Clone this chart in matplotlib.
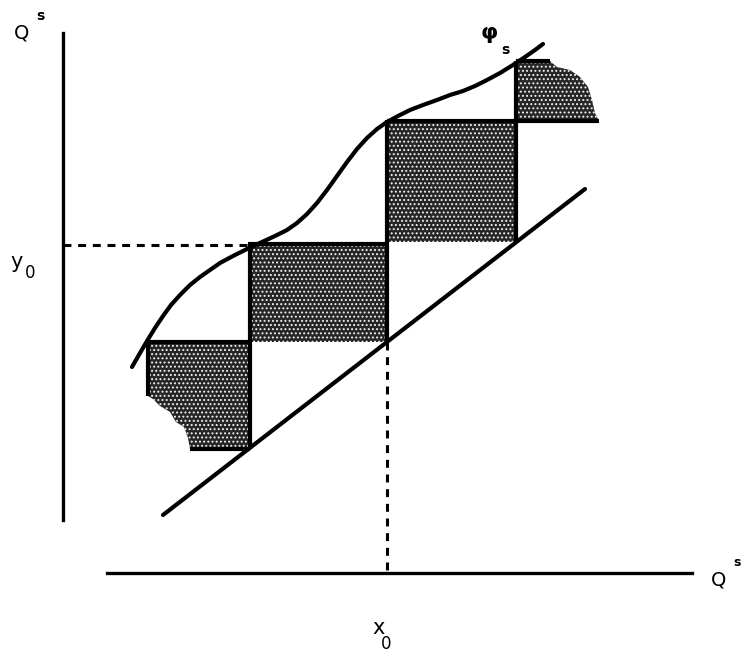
import matplotlib.pyplot as plt

# everything in pixel units (x to the right, y downwards)
W, H = 743, 664

# upward-sloping straight line
line_x = [163, 585]
line_y = [515, 189]

# the S-shaped curve
curve_x = [132, 140, 147, 155, 163, 171, 180, 190, 200, 210, 220, 233, 247, 262,
           275, 287, 297, 307, 317, 327, 337, 347, 357, 367, 377, 387, 398, 410,
           423, 437, 450, 463, 475, 487, 500, 513, 525, 535, 543]
curve_y = [367, 353, 341, 328, 316, 305, 295, 285, 277, 270, 263, 256, 249, 242,
           236, 230, 223, 214, 203, 190, 176, 162, 149, 138, 129, 122, 116, 110,
           105, 100, 95, 91, 86, 80, 73, 65, 57, 50, 44]

# shaded staircase boxes
box1_x = [148, 250, 250, 190, 188, 184, 176, 170, 160, 153, 148]
box1_y = [342, 342, 449, 449, 438, 427, 422, 412, 406, 399, 396]
box2_x = [248, 387, 387, 248]
box2_y = [244, 244, 342, 342]
box3_x = [387, 516, 516, 387]
box3_y = [121, 121, 242, 242]
box4_x = [516, 550, 557, 570, 580, 588, 592, 595, 599, 516]
box4_y = [61, 61, 67, 70, 77, 87, 100, 113, 121, 121]

# thick borders of the boxes (x0, y0, x1, y1)
edges = [
    (148, 342, 250, 342), (250, 244, 250, 449), (190, 449, 250, 449),
    (148, 342, 148, 396),
    (248, 244, 387, 244), (387, 120, 387, 342),
    (387, 121, 599, 121), (516, 61, 516, 242), (516, 61, 550, 61),
]

# reference levels
x0_pos, y0_pos = 387, 245

fig = plt.figure(figsize=(W / 100, H / 100), dpi=100)
ax = fig.add_axes([0, 0, 1, 1])
ax.set_xlim(0, W)
ax.set_ylim(H, 0)
ax.axis('off')

plt.rcParams['hatch.linewidth'] = 0.9
for bx, by in [(box1_x, box1_y), (box2_x, box2_y), (box3_x, box3_y), (box4_x, box4_y)]:
    ax.fill(bx, by, facecolor='#262626', edgecolor='#f0f0f0', hatch='....', lw=0, zorder=1)

for xa, ya, xb, yb in edges:
    ax.plot([xa, xb], [ya, yb], color='black', lw=3, solid_capstyle='butt', zorder=3)

# axes of the diagram
ax.plot([63, 63], [33, 520], color='black', lw=2.4, zorder=3)
ax.plot([107, 692], [573, 573], color='black', lw=2.4, zorder=3)

# dashed guides
ax.plot([63, 248], [y0_pos, y0_pos], color='black', lw=2.2, ls=(0, (2.6, 2.2)), zorder=2)
ax.plot([x0_pos, x0_pos], [342, 573], color='black', lw=2.2, ls=(0, (2.6, 2.2)), zorder=2)

ax.plot(line_x, line_y, color='black', lw=3, solid_capstyle='round', zorder=4)
ax.plot(curve_x, curve_y, color='black', lw=3, solid_capstyle='round',
        solid_joinstyle='round', zorder=4)

# labels
ax.text(22, 33, 'Q', fontsize=14, ha='center', va='center')
ax.text(40, 16, 's', fontsize=10, fontweight='bold', ha='center', va='center')
ax.text(719, 580, 'Q', fontsize=14, ha='center', va='center')
ax.text(737, 563, 's', fontsize=9, fontweight='bold', ha='center', va='center')
ax.text(17, 262, 'y', fontsize=15, ha='center', va='center')
ax.text(30, 273, '0', fontsize=12, ha='center', va='center')
ax.text(379, 628, 'x', fontsize=15, ha='center', va='center')
ax.text(386, 644, '0', fontsize=12, ha='center', va='center')
ax.text(489, 33, 'φ', fontsize=16, fontweight='bold', ha='center', va='center')
ax.text(505, 50, 's', fontsize=10, fontweight='bold', ha='center', va='center')

fig.savefig('out.png', dpi=100)
